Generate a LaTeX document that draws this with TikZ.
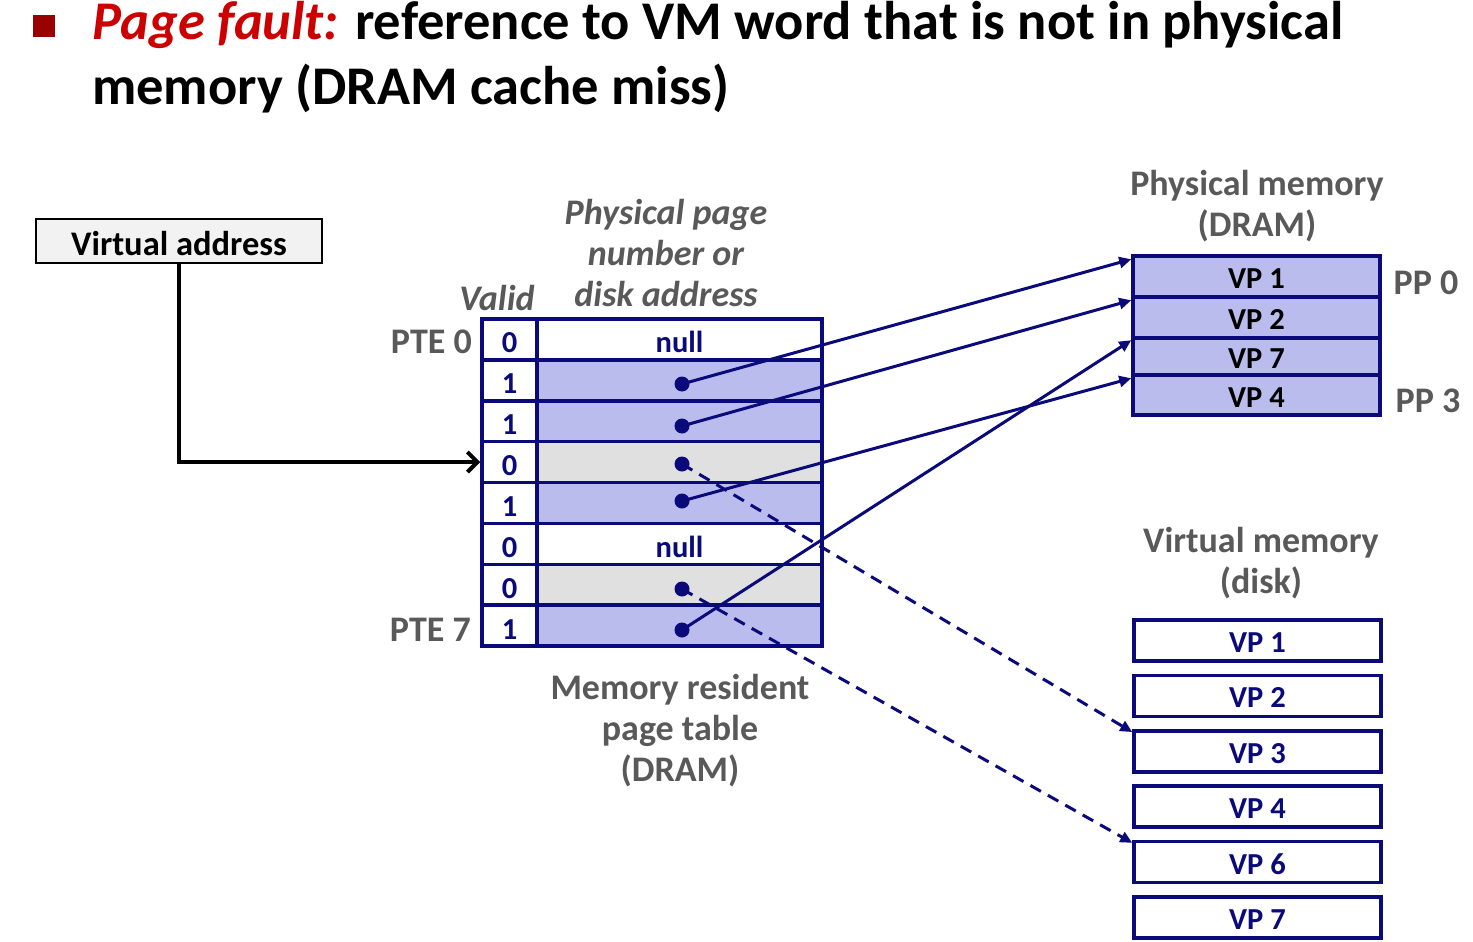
\documentclass[tikz,border=0pt]{standalone}
\usepackage{fontspec}
\setmainfont{Carlito}
\usetikzlibrary{arrows.meta}
\definecolor{tblue}{HTML}{0A0A7A}
\definecolor{lav}{HTML}{B9BCEC}
\definecolor{lgray}{HTML}{E0E0E0}
\definecolor{lblgray}{HTML}{595959}
\definecolor{titlered}{HTML}{CC0000}
\definecolor{bulletred}{HTML}{990000}
\definecolor{vabox}{HTML}{F2F2F2}
\tikzset{
  cell/.style={draw=tblue, line width=3.5pt, minimum height=40.875pt, inner sep=0pt,
    text height=30pt, text depth=3pt,
    font=\fontsize{30.5}{36}\selectfont\bfseries, text=tblue},
  vcell/.style={cell, minimum width=55pt},
  acell/.style={cell, minimum width=285pt},
  pmcell/.style={draw=tblue, line width=3.5pt, fill=lav, minimum width=247pt, inner sep=0pt,
    text height=27pt, text depth=3pt,
    font=\fontsize{30.5}{36}\selectfont\bfseries, text=black},
  dkcell/.style={draw=tblue, line width=3.5pt, fill=white, minimum width=247pt, minimum height=41pt, inner sep=0pt,
    text height=27pt, text depth=3pt,
    font=\fontsize{30.5}{36}\selectfont\bfseries, text=tblue},
  dotn/.style={circle, fill=tblue, inner sep=0pt, minimum size=15pt},
  lbl/.style={font=\fontsize{36}{41}\selectfont\bfseries, text=lblgray, align=center, inner sep=0pt},
  ilbl/.style={lbl, font=\fontsize{36}{41}\selectfont\bfseries\itshape},
  parrow/.style={draw=tblue, line width=3pt, -{Triangle[length=12pt,width=11pt]}},
  darrow/.style={parrow, dash pattern=on 12pt off 8pt},
  title/.style={anchor=base west, inner sep=0pt, font=\fontsize{54.5}{63}\selectfont\bfseries}
}
\begin{document}
\begin{tikzpicture}[x=1pt, y=-1pt]
\useasboundingbox (0,0) rectangle (1473,942);
% title
\node[fill=bulletred, minimum size=22pt, inner sep=0pt] (bul) at (44,26) {};
\node[title] (t1) at (92,40) {\textcolor{titlered}{\itshape Page fault:} reference to VM word that is not in physical};
\node[title] (t2) at (92,104) {memory (DRAM cache miss)};
% virtual address
\node[draw=black, line width=2pt, fill=vabox, minimum width=286pt, minimum height=44pt, inner sep=0pt,
  text height=30pt, text depth=2pt,
  font=\fontsize{34.5}{40}\selectfont\bfseries] (va) at (179,241) {Virtual address};
% page table
\foreach \i/\v/\f in {0/0/white,1/1/lav,2/1/lav,3/0/lgray,4/1/lav,5/0/white,6/0/lgray,7/1/lav}{
  \node[vcell, fill=white] (v\i) at (509.5, 339.44+40.875*\i) {\v};
  \node[acell, fill=\f] (a\i) at (679.5, 339.44+40.875*\i) {};
}
\node[cell, draw=none, fill=none] (n0) at (a0) {null};
\node[cell, draw=none, fill=none] (n5) at (a5) {null};
% dots
\node[dotn] (d1) at (682,384) {};
\node[dotn] (d2) at (682,426) {};
\node[dotn] (d3) at (682,464) {};
\node[dotn] (d4) at (682,501) {};
\node[dotn] (d6) at (682,589) {};
\node[dotn] (d7) at (682,630) {};
% labels
\node[ilbl] (valid) at (497,298) {Valid};
\node[ilbl] (ppn) at (666,253) {Physical page\\number or\\disk address};
\node[lbl, anchor=east] (pte0) at (472,342) {PTE 0};
\node[lbl, anchor=east] (pte7) at (471,630) {PTE 7};
\node[lbl] (mrpt) at (680,731) {Memory resident\\page table\\(DRAM)};
\node[lbl] (pmlbl) at (1257,206) {Physical memory\\(DRAM)};
\node[lbl] (vmlbl) at (1261,563) {Virtual memory\\(disk)};
% physical memory
\node[pmcell, minimum height=41pt] (pm1) at (1256.5,276.5) {VP 1};
\node[pmcell, minimum height=41pt] (pm2) at (1256.5,317.5) {VP 2};
\node[pmcell, minimum height=37pt] (pm3) at (1256.5,356.5) {VP 7};
\node[pmcell, minimum height=40pt] (pm4) at (1256.5,395) {VP 4};
\node[lbl] (pp0) at (1426,283) {PP 0};
\node[lbl] (pp3) at (1428,401) {PP 3};
% disk
\foreach \i/\t in {0/1,1/2,2/3,3/4,4/6,5/7}{
  \node[dkcell] (dk\t) at (1257.5, 640.5+55.4*\i) {VP \t};
}
% connectors
\draw[line width=4pt, -{Straight Barb[length=10pt,width=20pt]}] (va.south) |- (v3.west);
\draw[parrow] (d1.center) -- ([yshift=-5pt]pm1.north west);
\draw[parrow] (d2.center) -- ([yshift=-5pt]pm2.north west);
\draw[parrow] (d4.center) -- ([yshift=-5pt]pm4.north west);
\draw[parrow] (d7.center) -- ([yshift=-4pt]pm3.north west);
\draw[darrow] (d3.center) -- ([yshift=-3pt]dk3.north west);
\draw[darrow] (d6.center) -- ([yshift=-3pt]dk6.north west);
\end{tikzpicture}
\end{document}
